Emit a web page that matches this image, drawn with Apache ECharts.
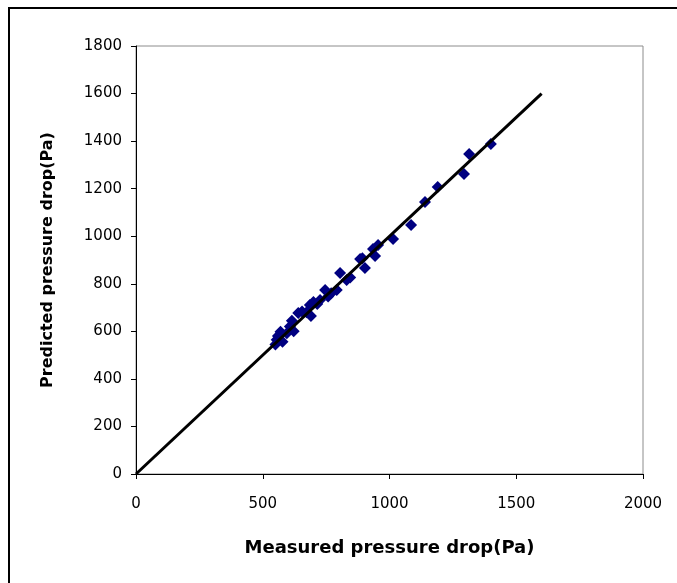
<!DOCTYPE html>
<html>
<head>
<meta charset="utf-8">
<style>html,body{margin:0;padding:0;background:#fff;}#chart{width:677px;height:583px;}</style>
<script src="https://cdn.jsdelivr.net/npm/echarts@6/dist/echarts.min.js"></script>
</head>
<body>
<div id="chart"></div>
<script>
const measured = [550,555,560,570,578,595,607,615,622,640,655,673,686,690,700,715,726,746,758,770,792,805,831,845,884,893,903,935,943,955,1014,1085,1140,1190,1294,1314,1400];
const predicted = [545,565,580,598,556,592,620,645,600,677,683,680,711,665,723,715,732,774,746,760,774,845,816,826,904,907,866,946,917,963,988,1047,1144,1207,1262,1346,1388];
const lineX = [0,1600];
const lineY = [0,1600];
const xTitle = 'Measured pressure drop(Pa)';
const yTitle = 'Predicted pressure drop(Pa)';

const chart = echarts.init(document.getElementById('chart'), null, {renderer:'canvas'});
const font = '"DejaVu Sans", "Liberation Sans", sans-serif';
chart.setOption({
  animation:false,
  backgroundColor:'#fff',
  graphic:[{type:'rect', shape:{x:9,y:8,width:700,height:620}, style:{fill:'none',stroke:'#000',lineWidth:2}, z:-10}],
  grid:{left:136,right:34,top:46,bottom:109,show:true,borderColor:'#8c8c8c',borderWidth:1},
  xAxis:{type:'value',min:0,max:2000,interval:500,
    name:xTitle,nameLocation:'middle',nameGap:65,
    nameTextStyle:{fontFamily:font,fontSize:18,fontWeight:'bold',color:'#000'},
    axisLine:{show:true,onZero:false,lineStyle:{color:'#000',width:1}},
    axisTick:{show:true,length:5,lineStyle:{color:'#000'}},
    axisLabel:{fontFamily:font,fontSize:15,color:'#000',margin:23,formatter:v=>String(v)},
    splitLine:{show:false}},
  yAxis:{type:'value',min:0,max:1800,interval:200,
    name:yTitle,nameLocation:'middle',nameGap:80,
    nameTextStyle:{fontFamily:font,fontSize:16,fontWeight:'bold',color:'#000'},
    axisLine:{show:true,onZero:false,lineStyle:{color:'#000',width:1}},
    axisTick:{show:true,length:5,lineStyle:{color:'#000'}},
    axisLabel:{fontFamily:font,fontSize:15,color:'#000',margin:14,formatter:v=>String(v)},
    splitLine:{show:false}},
  series:[
    {type:'scatter',data:measured.map((v,i)=>[v,predicted[i]]),symbol:'diamond',symbolSize:12,
     itemStyle:{color:'#000080',opacity:1},z:2},
    {type:'line',data:lineX.map((v,i)=>[v,lineY[i]]),showSymbol:false,symbol:'none',
     lineStyle:{color:'#000',width:3},z:3}
  ]
});
</script>
</body>
</html>
